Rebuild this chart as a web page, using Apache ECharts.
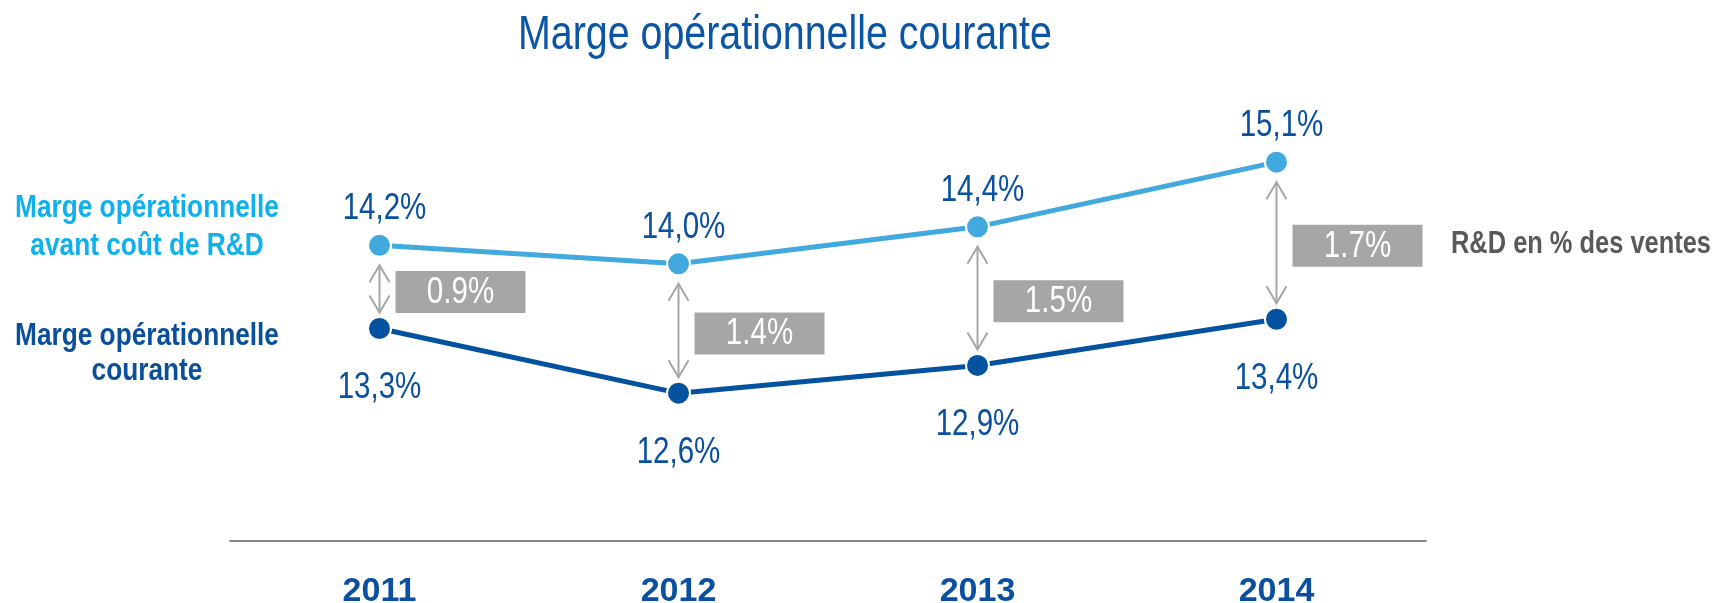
<!DOCTYPE html>
<html>
<head>
<meta charset="utf-8">
<script src="https://cdn.jsdelivr.net/npm/echarts@6/dist/echarts.min.js"></script>
<style>
  html, body { margin: 0; padding: 0; background: #fff; }
  #main { width: 1726px; height: 603px; }
</style>
</head>
<body>
<div id="main"></div>
<script>
// données
var years = ['2011', '2012', '2013', '2014'];
var margeAvantRD = [14.2, 14.0, 14.4, 15.1];   // marge opérationnelle avant coût de R&D
var margeCourante = [13.3, 12.6, 12.9, 13.4];  // marge opérationnelle courante
var rdVentes = [0.9, 1.4, 1.5, 1.7];           // R&D en % des ventes

var FONT = "'Liberation Sans', Arial, sans-serif";
var NARROW = 0.82; // pas d'Arial Narrow installé : on compresse
var BLEU = '#0b50a0';
var BLEU_CLAIR = '#41a9de';
var GRIS = '#a6a6a6';

function pct(v) {
  return v.toFixed(1).replace('.', ',') + '%';
}

// texte "étroit" centré verticalement sur (x, y)
function txt(text, x, y, size, color, weight, align, lh) {
  return {
    type: 'text',
    x: x,
    y: y + 3,
    scaleX: NARROW,
    style: {
      text: text, x: 0, y: 0,
      align: align, textAlign: align,
      verticalAlign: 'middle', textVerticalAlign: 'middle',
      fontSize: size, fontFamily: FONT, fontWeight: weight,
      lineHeight: lh, fill: color
    }
  };
}

var myChart = echarts.init(document.getElementById('main'));
var option = {
  animation: false,
  grid: { left: 230, right: 300, top: 79, bottom: 62, outerBoundsMode: 'none' },
  xAxis: {
    type: 'category',
    data: years,
    axisLine: { lineStyle: { color: '#888', width: 2 } },
    axisTick: { show: false },
    axisLabel: { color: BLEU, fontSize: 34, fontWeight: 'bold', fontFamily: FONT, margin: 34 }
  },
  yAxis: { type: 'value', min: 11, max: 16, show: false },
  graphic: [
    txt('Marge opérationnelle courante', 785, 33, 48, '#0b55a5', 'normal', 'center', 48),
    txt('Marge opérationnelle\navant coût de R&D', 147, 224, 32, '#0fb0ec', 'bold', 'center', 38),
    txt('Marge opérationnelle\ncourante', 147, 351, 32, '#0a4f9c', 'bold', 'center', 35),
    txt('R&D en % des ventes', 1451, 241, 31, '#595959', 'bold', 'left', 31)
  ],
  series: [
    {
      name: 'Marge opérationnelle avant coût de R&D',
      type: 'line',
      data: margeAvantRD,
      z: 3,
      symbol: 'circle',
      symbolSize: 23,
      lineStyle: { color: BLEU_CLAIR, width: 5 },
      itemStyle: { color: BLEU_CLAIR, borderColor: '#fff', borderWidth: 2 }
    },
    {
      name: 'Marge opérationnelle courante',
      type: 'line',
      data: margeCourante,
      z: 3,
      symbol: 'circle',
      symbolSize: 23,
      lineStyle: { color: '#0352a0', width: 5 },
      itemStyle: { color: '#0352a0', borderColor: '#fff', borderWidth: 2 }
    },
    {
      // étiquettes de valeurs, flèches et cartouches R&D
      type: 'custom',
      z: 1,
      silent: true,
      encode: { x: 0, y: [1, 2] },
      data: years.map(function (y, i) {
        return [i, margeAvantRD[i], margeCourante[i], rdVentes[i]];
      }),
      renderItem: function (params, api) {
        var top = api.coord([api.value(0), api.value(1)]);
        var bot = api.coord([api.value(0), api.value(2)]);
        var x = top[0];
        var y1 = top[1] + 20;
        var y2 = bot[1] - 16;
        var st = { stroke: GRIS, lineWidth: 2, fill: null };
        var midY = (top[1] + bot[1]) / 2 + 5;
        return {
          type: 'group',
          children: [
            { type: 'line', shape: { x1: x, y1: y1, x2: x, y2: y2 }, style: st },
            { type: 'polyline', shape: { points: [[x - 10, y1 + 17], [x, y1], [x + 10, y1 + 17]] }, style: st },
            { type: 'polyline', shape: { points: [[x - 10, y2 - 17], [x, y2], [x + 10, y2 - 17]] }, style: st },
            { type: 'rect', shape: { x: x + 16, y: midY - 21, width: 130, height: 42 }, style: { fill: GRIS } },
            txt(api.value(3).toFixed(1) + '%', x + 81, midY - 2, 36, '#fff', 'normal', 'center', 36),
            txt(pct(api.value(1)), x + 5, top[1] - 39, 36, BLEU, 'normal', 'center', 36),
            txt(pct(api.value(2)), x, bot[1] + 57, 36, BLEU, 'normal', 'center', 36)
          ]
        };
      }
    }
  ]
};
window.onresize = myChart.resize;
myChart.setOption(option);
</script>
</body>
</html>
